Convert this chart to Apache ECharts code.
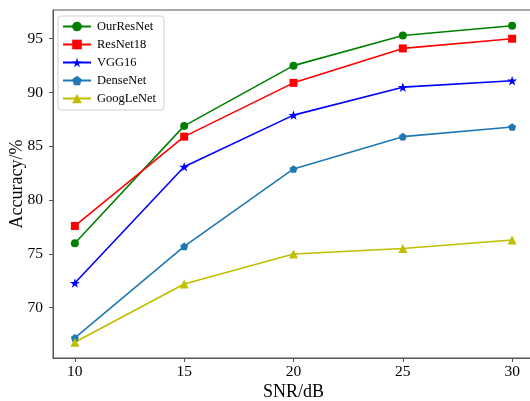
<!DOCTYPE html>
<html>
<head>
<meta charset="utf-8">
<script src="https://cdn.jsdelivr.net/npm/echarts@6/dist/echarts.min.js"></script>
<style>
html,body{margin:0;padding:0;background:#fff;}
#chart{width:530px;height:401px;}
</style>
</head>
<body>
<div id="chart"></div>
<script>
const snr = [10, 15, 20, 25, 30];
const xTicks = [10, 15, 20, 25, 30];
const yTicks = [70, 75, 80, 85, 90, 95];
const ourResNet = [76.0, 86.9, 92.5, 95.3, 96.2];
const resNet18 = [77.6, 85.9, 90.9, 94.1, 95.0];
const vgg16 = [72.3, 83.1, 87.9, 90.5, 91.1];
const denseNet = [67.2, 75.7, 82.9, 85.9, 86.8];
const googLeNet = [66.8, 72.2, 75.0, 75.5, 76.3];

const STAR = 'path://M50,0 L61.8,35.1 L98.1,35.1 L68.8,56.8 L79.4,91.0 L50,70 L20.6,91.0 L31.2,56.8 L1.9,35.1 L38.2,35.1 Z';
const PENTA = 'path://M50,0 L97.6,34.5 L79.4,90.5 L20.6,90.5 L2.4,34.5 Z';
const FONT = '"Liberation Serif", "Times New Roman", serif';

function pairs(vals) { return snr.map((x, i) => [x, vals[i]]); }
function mk(name, vals, color, symbol, size) {
  return {
    name: name, type: 'line', data: pairs(vals),
    symbol: symbol, symbolSize: size, symbolKeepAspect: true,
    showAllSymbol: true,
    lineStyle: { color: color, width: 1.6 },
    itemStyle: { color: color, borderWidth: 0 },
    emphasis: { disabled: true },
    animation: false
  };
}

const chart = echarts.init(document.getElementById('chart'));
chart.setOption({
  animation: false,
  backgroundColor: '#fff',
  textStyle: { fontFamily: FONT },
  grid: {
    left: 53, top: 10, bottom: 43, right: -4,
    show: true, borderColor: '#555', borderWidth: 1,
    outerBoundsMode: 'none', containLabel: false
  },
  legend: {
    orient: 'vertical', left: 58, top: 16,
    padding: [4, 8, 5, 4],
    itemWidth: 28, itemHeight: 12, itemGap: 5,
    borderColor: '#d0d0d0', borderWidth: 1, borderRadius: 3,
    textStyle: { fontFamily: FONT, fontSize: 12.5, lineHeight: 12, color: '#000', padding: [0, 0, 0, 1] },
    data: ['OurResNet', 'ResNet18', 'VGG16', 'DenseNet', 'GoogLeNet']
  },
  xAxis: {
    type: 'value', min: 9, max: 31,
    name: 'SNR/dB', nameLocation: 'middle', nameGap: 25, nameMoveOverlap: false,
    nameTextStyle: { fontFamily: FONT, fontSize: 18, color: '#000' },
    axisLine: { show: true, lineStyle: { color: '#555', width: 1 } },
    axisTick: { show: true, inside: false, length: 4, customValues: xTicks, lineStyle: { color: '#555' } },
    axisLabel: { customValues: xTicks, margin: 6, fontFamily: FONT, fontSize: 15.5, color: '#000' },
    splitLine: { show: false }
  },
  yAxis: {
    type: 'value', min: 65.33, max: 97.67,
    name: 'Accuracy/%', nameLocation: 'middle', nameGap: 27, nameRotate: 90, nameMoveOverlap: false,
    nameTextStyle: { fontFamily: FONT, fontSize: 18, color: '#000' },
    axisLine: { show: true, lineStyle: { color: '#555', width: 1 } },
    axisTick: { show: true, inside: false, length: 4, customValues: yTicks, lineStyle: { color: '#555' } },
    axisLabel: { customValues: yTicks, margin: 10, fontFamily: FONT, fontSize: 15.5, color: '#000' },
    splitLine: { show: false }
  },
  series: [
    mk('OurResNet', ourResNet, '#008000', 'circle', 8),
    mk('ResNet18', resNet18, '#ff0000', 'rect', 8),
    mk('VGG16', vgg16, '#0000ff', STAR, 10),
    mk('DenseNet', denseNet, '#1f77b4', PENTA, 8),
    mk('GoogLeNet', googLeNet, '#bfbf00', 'triangle', 9)
  ]
});
</script>
</body>
</html>
